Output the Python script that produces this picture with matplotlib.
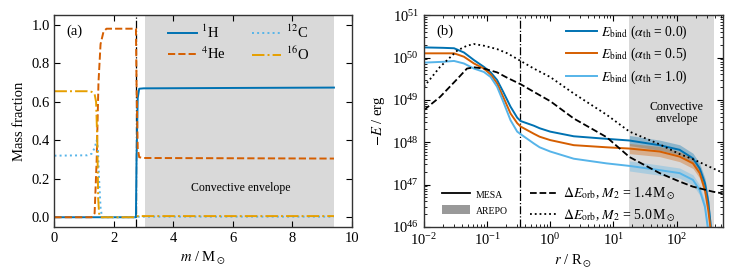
import numpy as np
import matplotlib
matplotlib.use("Agg")
import matplotlib.pyplot as plt
from matplotlib.patches import Patch
from matplotlib.lines import Line2D

plt.rcParams['font.family'] = ['Liberation Serif', 'DejaVu Serif']
plt.rcParams['mathtext.fontset'] = 'stix'
plt.rcParams['font.size'] = 10.5
plt.rcParams['xtick.direction'] = 'in'
plt.rcParams['ytick.direction'] = 'in'
plt.rcParams['xtick.top'] = True
plt.rcParams['ytick.right'] = True
plt.rcParams['axes.linewidth'] = 1.0
plt.rcParams['axes.edgecolor'] = '#333333'
plt.rcParams['xtick.major.size'] = 4
plt.rcParams['ytick.major.size'] = 4
plt.rcParams['xtick.minor.size'] = 2
plt.rcParams['ytick.minor.size'] = 2

c_blue = '#0072B2'
c_orange = '#D55E00'
c_light = '#56B4E9'
c_gold = '#E69F00'

# (a) 조성 분포
m_h = [0.0, 2.74, 2.76, 2.8, 2.85, 3.0, 6.0, 9.4]
x_h = [0.0, 0.0, 0.3, 0.62, 0.668, 0.670, 0.672, 0.674]
m_he = [0.0, 1.25, 1.35, 1.42, 1.48, 1.55, 1.65, 1.75, 2.74, 2.76, 2.8, 2.85, 3.0, 9.4]
x_he = [0.0, 0.0, 0.02, 0.3, 0.7, 0.9, 0.965, 0.98, 0.98, 0.7, 0.36, 0.312, 0.308, 0.305]
m_c = [0.0, 1.1, 1.25, 1.35, 1.42, 1.46, 1.5, 1.55, 1.6, 2.74, 2.8, 9.4]
x_c = [0.32, 0.322, 0.33, 0.36, 0.40, 0.36, 0.2, 0.05, 0.0, 0.0, 0.003, 0.003]
m_o = [0.0, 1.1, 1.25, 1.35, 1.4, 1.44, 1.47, 1.5, 1.55, 2.74, 2.8, 9.4]
x_o = [0.655, 0.655, 0.652, 0.64, 0.6, 0.4, 0.1, 0.02, 0.0, 0.0, 0.006, 0.006]
m_core = 2.75
env_a = (3.05, 9.4)

# (b) 결합 에너지 (log10 erg)
r_b = [0.01, 0.02, 0.03, 0.043, 0.062, 0.089, 0.114, 0.144, 0.18, 0.235, 0.30, 0.34,
       0.55, 0.68, 1.0, 2.36, 7.8, 18, 54, 112, 182, 233, 282, 318, 350]
eb0 = [50.24, 50.23, 50.22, 50.12, 49.94, 49.78, 49.65, 49.47, 49.19, 48.84, 48.58, 48.5,
       48.39, 48.33, 48.25, 48.14, 48.08, 48.04, 47.93, 47.82, 47.62, 47.38, 47.03, 46.6, 46.0]
eb5 = [50.10, 50.10, 50.10, 50.02, 49.86, 49.74, 49.60, 49.39, 49.07, 48.68, 48.45, 48.37,
       48.2, 48.13, 48.05, 47.93, 47.88, 47.85, 47.78, 47.66, 47.5, 47.27, 46.87, 46.4, 45.9]
eb1 = [49.88, 49.90, 49.92, 49.86, 49.74, 49.66, 49.54, 49.31, 48.96, 48.52, 48.25, 48.19,
       47.97, 47.88, 47.78, 47.61, 47.5, 47.44, 47.34, 47.27, 47.11, 46.87, 46.48, 45.9, 45.5]
r_orb = [0.01, 0.018, 0.034, 0.048, 0.062, 0.089, 0.144, 0.21, 0.34, 0.55, 1.0, 2.36,
         7.8, 18, 54, 112, 182, 380, 540]
e14 = [48.76, 49.07, 49.5, 49.74, 49.77, 49.74, 49.65, 49.52, 49.37, 49.19, 48.97, 48.56,
       48.12, 47.65, 47.27, 47.07, 46.95, 46.83, 46.79]
e50 = [49.31, 49.78, 50.17, 50.28, 50.32, 50.28, 50.2, 50.1, 49.92, 49.74, 49.54, 49.15,
       48.65, 48.25, 47.95, 47.72, 47.6, 47.38, 47.28]
r_core = 0.327
env_b = (18, 390)
r_arepo = 18
band = 0.12

fig = plt.figure(figsize=(7.36, 2.77), dpi=100)
ax1 = fig.add_axes([0.074, 0.181, 0.404, 0.764])
ax2 = fig.add_axes([0.576, 0.181, 0.406, 0.764])

ax1.axvspan(*env_a, color='#d9d9d9', lw=0, zorder=0)
ax1.axvline(m_core, color='k', ls='-.', lw=0.9)
ax1.plot(m_h, x_h, color=c_blue, ls='-', lw=1.4, label=r'$^{1}$H')
ax1.plot(m_he, x_he, color=c_orange, ls='--', lw=1.4, label=r'$^{4}$He')
ax1.plot(m_c, x_c, color=c_light, ls=':', lw=1.4, label=r'$^{12}$C')
ax1.plot(m_o, x_o, color=c_gold, ls='-.', lw=1.4, label=r'$^{16}$O')
ax1.set_xlim(0, 10)
ax1.set_ylim(-0.05, 1.05)
ax1.set_xlabel(r'$m$ / M$_\odot$')
ax1.set_ylabel('Mass fraction')
ax1.text(0.04, 0.955, '(a)', transform=ax1.transAxes, va='top')
ax1.text(6.25, 0.15, 'Convective envelope', ha='center', va='center', fontsize=8.5)
ax1.legend(ncol=2, loc='upper right', frameon=False, handlelength=2.0,
           columnspacing=1.8, bbox_to_anchor=(0.9, 1.02), labelspacing=0.3,
           handletextpad=0.3)

ax2.axvspan(*env_b, color='#d9d9d9', lw=0, zorder=0)
ax2.axvline(r_core, color='k', ls='-.', lw=0.9)
for e, col in [(eb0, c_blue), (eb5, c_orange), (eb1, c_light)]:
    r = np.array(r_b)
    e = np.array(e)
    ax2.plot(r, 10**e, color=col, lw=1.4)
    sel = r >= r_arepo
    ax2.fill_between(r[sel], 10**(e[sel] - band), 10**(e[sel] + band),
                     color=col, alpha=0.35, lw=0)
ax2.plot(r_orb, 10**np.array(e14), color='k', ls='--', lw=1.3)
ax2.plot(r_orb, 10**np.array(e50), color='k', ls=':', lw=1.3)
ax2.set_xscale('log')
ax2.set_yscale('log')
ax2.set_xlim(0.01, 540)
ax2.set_ylim(1e46, 1e51)
ax2.set_xlabel(r'$r$ / R$_\odot$')
ax2.set_ylabel(r'$-E$ / erg')
ax2.text(0.04, 0.955, '(b)', transform=ax2.transAxes, va='top')
ax2.text(100, 10**48.69, 'Convective\nenvelope', ha='center', va='center',
         fontsize=8.5, linespacing=1.0)

h_top = [Line2D([], [], color=c, lw=1.4) for c in (c_blue, c_orange, c_light)]
l_top = [r'$E_{\mathrm{bind}}$ ($\alpha_{\mathrm{th}}$ = %s)' % a for a in ('0.0', '0.5', '1.0')]
leg1 = ax2.legend(h_top, l_top, loc='upper right', frameon=False, fontsize=9.8,
                  handlelength=2.3, bbox_to_anchor=(0.925, 1.02), labelspacing=0.4,
                  handletextpad=0.3)
ax2.add_artist(leg1)
h_bot = [Line2D([], [], color='k', lw=1.3),
         Patch(color='#999999', lw=0),
         Line2D([], [], color='k', ls='--', lw=1.3),
         Line2D([], [], color='k', ls=':', lw=1.3)]
l_bot = ['MESA', 'AREPO',
         r'$\Delta E_{\mathrm{orb}}$, $M_2$ = 1.4$\,$M$_\odot$',
         r'$\Delta E_{\mathrm{orb}}$, $M_2$ = 5.0$\,$M$_\odot$']
leg2 = ax2.legend(h_bot, l_bot, ncol=2, loc='lower left', frameon=False, fontsize=10,
                  handlelength=2.0, bbox_to_anchor=(0.02, -0.045), columnspacing=1.6,
                  handletextpad=0.4, labelspacing=0.35)
for t in leg2.get_texts()[:2]:
    t.set_fontsize(7)

fig.savefig('out.png', dpi=100)
